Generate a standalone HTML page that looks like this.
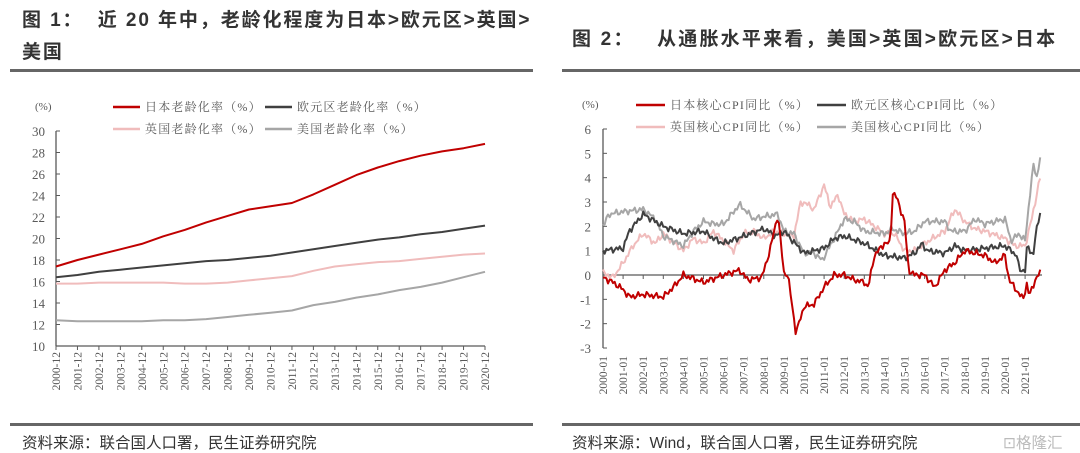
<!DOCTYPE html>
<html><head><meta charset="utf-8">
<style>
body{margin:0;background:#fff;width:1080px;height:452px;overflow:hidden;font-family:"Liberation Sans","Noto Sans CJK SC",sans-serif}
.t{position:absolute;font-weight:bold;font-size:19px;color:#333;letter-spacing:1.9px}
.s{position:absolute;font-size:15.5px;color:#333}
.ln{position:absolute;height:3px;background:#666}
svg{position:absolute;left:0;top:0}
</style></head><body>
<div class="t" style="left:22px;top:5px">图 1：&nbsp; 近 20 年中，老龄化程度为日本&gt;欧元区&gt;英国&gt;</div>
<div class="t" style="left:22px;top:37px">美国</div>
<div class="t" style="left:572px;top:24px;letter-spacing:2.2px">图 2：&nbsp;&nbsp; 从通胀水平来看，美国&gt;英国&gt;欧元区&gt;日本</div>
<div class="ln" style="left:10px;top:69px;width:523px"></div>
<div class="ln" style="left:562px;top:69px;width:520px"></div>
<div class="ln" style="left:10px;top:423px;width:523px"></div>
<div class="ln" style="left:562px;top:423px;width:520px"></div>
<div class="s" style="left:22px;top:431px">资料来源：联合国人口署，民生证券研究院</div>
<div class="s" style="left:572px;top:431px">资料来源：Wind，联合国人口署，民生证券研究院</div>
<div class="s" style="left:1003px;top:431px;color:#bbb">⊡格隆汇</div>
<svg id="g" width="1080" height="452" xmlns="http://www.w3.org/2000/svg"></svg>
<script>
var S='';
var F='font-family="Liberation Serif,Noto Serif CJK SC,serif"';
function line(x1,y1,x2,y2,c,w){S+='<line x1="'+x1+'" y1="'+y1+'" x2="'+x2+'" y2="'+y2+'" stroke="'+c+'" stroke-width="'+w+'"/>';}
function txt(x,y,t,sz,anc,extra){S+='<text x="'+x+'" y="'+y+'" font-size="'+sz+'" fill="#595959" text-anchor="'+(anc||'start')+'" '+F+' '+(extra||'')+'>'+t+'</text>';}
function poly(pts,c,w){S+='<polyline fill="none" stroke="'+c+'" stroke-width="'+w+'" stroke-linejoin="round" points="'+pts.map(p=>p[0].toFixed(1)+','+p[1].toFixed(1)).join(' ')+'"/>';}
var RED='#c00000',DK='#404040',PK='#f0bcbc',GR='#a6a6a6';
var LG='letter-spacing="1.2"';
// LEFT
var x0=56,x1=485,yT=131,yB=346;
function ly(v){return yB-(v-10)*(yB-yT)/20;}
line(x0,yT,x0,yB,'#595959',1.3);line(x0,yB,x1,yB,'#595959',1.3);
for(var v=10;v<=30;v+=2){line(x0,ly(v),x0+4,ly(v),'#595959',1);txt(45,ly(v)+5,v,13,'end');}
var st=(x1-x0)/20;
for(var i=0;i<21;i++){var x=x0+i*st;line(x,yB,x,yB+4,'#595959',1);txt(x+4,yB+6,(2000+i)+'-12',11.5,'end','transform="rotate(-90 '+(x+4)+' '+(yB+6)+')"');}
var L={jp:[17.4,18.0,18.5,19.0,19.5,20.2,20.8,21.5,22.1,22.7,23.0,23.3,24.1,25.0,25.9,26.6,27.2,27.7,28.1,28.4,28.8],
eu:[16.4,16.6,16.9,17.1,17.3,17.5,17.7,17.9,18.0,18.2,18.4,18.7,19.0,19.3,19.6,19.9,20.1,20.4,20.6,20.9,21.2],
uk:[15.8,15.8,15.9,15.9,15.9,15.9,15.8,15.8,15.9,16.1,16.3,16.5,17.0,17.4,17.6,17.8,17.9,18.1,18.3,18.5,18.6],
us:[12.4,12.3,12.3,12.3,12.3,12.4,12.4,12.5,12.7,12.9,13.1,13.3,13.8,14.1,14.5,14.8,15.2,15.5,15.9,16.4,16.9]};
poly(L.us.map((v,i)=>[x0+i*st,ly(v)]),GR,2);poly(L.uk.map((v,i)=>[x0+i*st,ly(v)]),PK,2);
poly(L.eu.map((v,i)=>[x0+i*st,ly(v)]),DK,2);poly(L.jp.map((v,i)=>[x0+i*st,ly(v)]),RED,2);
txt(35,110,'(%)',11);
line(113,107,140,107,RED,2.5);txt(145,111,'日本老龄化率（%）',12,'start',LG);
line(265,107,292,107,DK,2.5);txt(297,111,'欧元区老龄化率（%）',12,'start',LG);
line(113,129,140,129,PK,2.5);txt(145,133,'英国老龄化率（%）',12,'start',LG);
line(265,129,292,129,GR,2.5);txt(297,133,'美国老龄化率（%）',12,'start',LG);
// RIGHT
var X0=603,X1=1042,YT=129,YB=348;
function ry(v){return YB-(v+3)*(YB-YT)/9;}
function rx(t){return X0+(t-2000)*20.1;}
line(X0,YT,X0,YB,'#595959',1.3);line(X0,ry(0),X1,ry(0),'#595959',1.3);
for(var v=-3;v<=6;v++){line(X0,ry(v),X0+4,ry(v),'#595959',1);txt(591,ry(v)+5,v,13,'end');}
for(var i=0;i<22;i++){var x=rx(2000+i);line(x,ry(0),x,ry(0)+4,'#595959',1);txt(x+4,YB+8,(2000+i)+'-01',11.5,'end','transform="rotate(-90 '+(x+4)+' '+(YB+8)+')"');}
function ser(k,seed){var pts=[];for(var m=0;m<=261;m++){var t=2000+m/12;var j=0;while(j<k.length-2&&k[j+1][0]<t)j++;var a=k[j],b=k[j+1];var f=Math.max(0,Math.min(1,(t-a[0])/(b[0]-a[0])));var v=a[1]+(b[1]-a[1])*f;v+=0.09*Math.sin(m*2.3+seed)+0.06*Math.sin(m*5.1+seed*2);pts.push([rx(t),ry(v)]);}return pts;}
var JP=[[2000,-0.1],[2000.5,-0.3],[2001,-0.6],[2001.3,-0.9],[2002,-0.8],[2003,-0.9],[2003.5,-0.5],[2004,0],[2005,-0.3],[2006,0],[2006.8,0.2],[2007.2,-0.2],[2007.9,-0.1],[2008.3,1],[2008.7,2.5],[2009,0.1],[2009.2,0],[2009.6,-2.4],[2010,-1.3],[2010.5,-1.2],[2011,-0.5],[2011.5,0],[2012,0],[2012.5,-0.2],[2013,-0.3],[2013.2,-0.5],[2013.5,0.8],[2014,1.3],[2014.3,1.3],[2014.4,3.4],[2014.6,3.2],[2015,2.2],[2015.2,0.2],[2015.5,0],[2016,0],[2016.5,-0.5],[2017,0.2],[2017.5,0.5],[2018,1],[2019,0.8],[2019.5,0.5],[2020,0.8],[2020.2,-0.2],[2020.9,-1],[2021.1,-0.3],[2021.2,-0.9],[2021.5,-0.2],[2021.75,0.1]];
var EU=[[2000,1],[2001,1.1],[2001.3,1.8],[2002,2.5],[2003,2],[2004,1.7],[2005,1.8],[2005.5,1.5],[2006,1.3],[2007,1.6],[2008,1.9],[2008.6,1.6],[2009,1.8],[2010,0.9],[2011,1.1],[2011.5,1.5],[2012,1.6],[2013,1.3],[2014,0.8],[2015,0.7],[2015.5,0.9],[2015.9,1.3],[2016.1,1],[2017,0.9],[2017.5,1.2],[2018,1],[2019,1.1],[2020,1.2],[2020.6,0.8],[2020.7,0.2],[2021,0.2],[2021.1,1.2],[2021.4,0.8],[2021.5,1.5],[2021.75,2.6]];
var UK=[[2000,0.1],[2000.5,-0.1],[2001,0.5],[2001.5,1.2],[2002,1.7],[2002.6,1.3],[2003,1.7],[2004,1],[2004.5,1.5],[2005,1.3],[2005.5,1.8],[2006.5,1],[2007,1.7],[2007.5,1.8],[2008,1.5],[2008.5,1.8],[2009,1.7],[2009.5,1.6],[2009.8,2.9],[2010,3],[2010.5,2.7],[2011,3.7],[2011.3,2.8],[2011.7,3.3],[2012,2.5],[2012.5,2.2],[2013,2.3],[2013.5,2.0],[2014,1.7],[2014.5,1.7],[2015,1],[2015.5,1.0],[2016,1.3],[2017,1.8],[2017.5,2.7],[2018,2.2],[2018.5,1.9],[2019,1.8],[2020,1.5],[2020.5,1.2],[2021,1.2],[2021.3,2.2],[2021.5,3.0],[2021.75,4.0]];
var US=[[2000,2],[2000.3,2.5],[2001,2.6],[2002,2.7],[2002.6,2.3],[2003,1.6],[2004,1.2],[2004.5,1.8],[2005,2.2],[2005.5,2.1],[2006,2.1],[2006.8,2.9],[2007.5,2.3],[2008,2.4],[2008.7,2.5],[2009,1.8],[2009.5,1.7],[2010,0.9],[2010.5,0.9],[2010.9,0.6],[2011.5,1.5],[2012,2.3],[2012.5,2.2],[2013,1.8],[2014,1.7],[2014.4,1.9],[2015,1.7],[2015.5,1.8],[2016,2.2],[2017,2.2],[2017.3,1.8],[2018,1.8],[2018.5,2.3],[2019,2.1],[2019.5,2.2],[2020,2.3],[2020.3,1.4],[2020.7,1.7],[2021,1.4],[2021.2,3],[2021.4,4.5],[2021.6,4],[2021.75,4.9]];
poly(ser(UK,1),PK,2);poly(ser(US,2),GR,2);poly(ser(EU,3),DK,2);poly(ser(JP,4),RED,2);
txt(582,108,'(%)',11);
line(636,105,665,105,RED,2.5);txt(670,109,'日本核心CPI同比（%）',12,'start',LG);
line(817,105,846,105,DK,2.5);txt(851,109,'欧元区核心CPI同比（%）',12,'start',LG);
line(636,127,665,127,PK,2.5);txt(670,131,'英国核心CPI同比（%）',12,'start',LG);
line(817,127,846,127,GR,2.5);txt(851,131,'美国核心CPI同比（%）',12,'start',LG);
document.getElementById('g').innerHTML=S;
</script>
</body></html>
